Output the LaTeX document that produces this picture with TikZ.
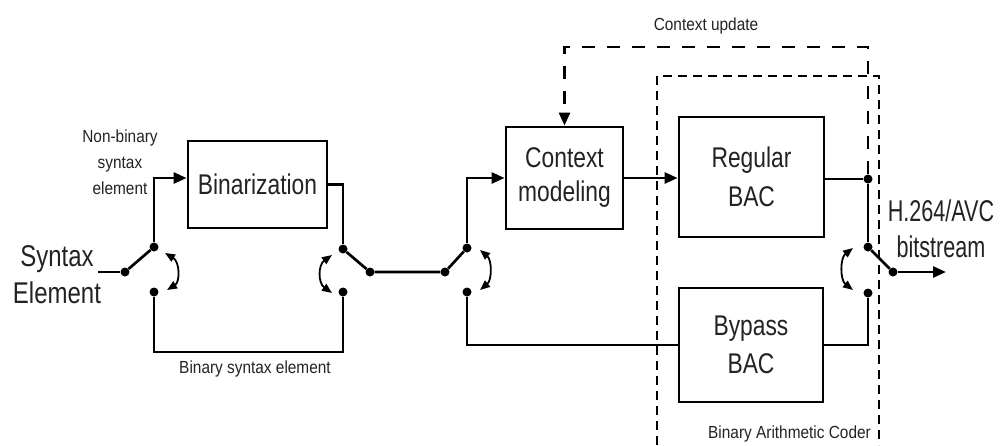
\documentclass[tikz,border=0pt]{standalone}
\usepackage{fontspec}
\setmainfont{Liberation Sans}
\newfontfamily\bigf[FakeStretch=0.8]{Liberation Sans}
\newfontfamily\outf[FakeStretch=0.72]{Liberation Sans}
\newfontfamily\smallf[FakeStretch=0.88]{Liberation Sans}
\usetikzlibrary{arrows.meta,calc}
\definecolor{txt}{RGB}{35,35,35}
\begin{document}
\begin{tikzpicture}[x=1pt,y=-1pt,
  line/.style={line width=2.7pt},
  box/.style={draw, line width=2.8pt, rectangle, inner sep=0pt, align=center, text=txt},
  boxfont/.style={font=\bigf\fontsize{28.5}{#1}\selectfont},
  dot/.style={circle, fill, inner sep=0pt, minimum size=9pt},
  arr/.style={-{Triangle[length=13pt,width=11pt]}},
  swarr/.style={line width=1.8pt, {Triangle[length=10pt,width=8pt]}-{Triangle[length=10pt,width=8pt]}},
  lbl/.style={text=txt, font=\smallf\fontsize{17.5}{26}\selectfont, inner sep=0pt, align=center},
  cudash/.style={line width=2.6pt, dash pattern=on 13pt off 12pt, -{Triangle[length=13pt,width=11pt]}},
  bacdash/.style={line width=1.7pt, dash pattern=on 9pt off 6pt}
]
\fill[white] (0,0) rectangle (1005,445);
\useasboundingbox (0,0) rectangle (1005,445);

% boxes
\node[box, boxfont=36, minimum width=139pt, minimum height=87pt] (bin) at (257.5,184.5) {Binarization};
\node[box, boxfont=34, minimum width=117pt, minimum height=102pt] (ctx) at (564.5,178) {Context\\modeling};
\node[box, boxfont=39, minimum width=145pt, minimum height=120pt] (reg) at (751.5,177) {Regular\\BAC};
\node[box, boxfont=38, minimum width=144pt, minimum height=114pt] (byp) at (751,345) {Bypass\\BAC};

% switch contacts
\node[dot] (p1) at (125,272) {};
\node[dot] (t1) at (154,247) {};
\node[dot] (b1) at (154,292) {};
\node[dot] (t2) at (343,249) {};
\node[dot] (p2) at (370,272) {};
\node[dot] (b2) at (343,292) {};
\node[dot] (p3) at (445,272) {};
\node[dot] (t3) at (467,248) {};
\node[dot] (b3) at (467,292) {};
\node[dot] (rdot) at (868,179) {};
\node[dot] (t4) at (868,247) {};
\node[dot] (p4) at (893,272) {};
\node[dot] (b4) at (868,293) {};
\coordinate (sin) at (98,272);
\coordinate (out) at (946,272);

% connectors
\draw[line] (sin) -- (p1);
\draw[line] (p1) -- (t1);
\draw[line,arr] (t1) |- ($(bin.west)+(0,-6.5)$);
\draw[line] (b1) -- ++(0,60) -| (b2);
\draw[line] (bin.east) -| (t2);
\draw[line] (t2) -- (p2) -- (p3) -- (t3);
\draw[line,arr] (t3) |- (ctx.west);
\draw[line] (b3) |- (byp.west);
\draw[line,arr] (ctx.east) -- (reg.west |- ctx.east);
\draw[line] (reg.east |- rdot) -- (rdot) -- (t4);
\draw[line] (byp.east) -| (b4);
\draw[line] (t4) -- (p4);
\draw[line,arr] (p4) -- (out);

% switch arcs
\draw[swarr] (165,253) .. controls (180,262) and (180,282) .. (167,290);
\draw[swarr] (332,255) .. controls (318,265) and (318,283) .. (332,293);
\draw[swarr] (480,250) .. controls (492,260) and (492,280) .. (480,290);
\draw[swarr] (853,248) .. controls (840,258) and (840,280) .. (853,290);

% context update
\draw[cudash] (rdot) -- ++(0,-132) -| (ctx.north);

% binary arithmetic coder frame
\draw[bacdash] (657,445) -- (657,76) -- (879,76) -- (879,445);

% labels
\node[text=txt, align=center, inner sep=0pt, font=\bigf\fontsize{30}{37}\selectfont] (se) at (57,275) {Syntax\\Element};
\node[text=txt, align=center, inner sep=0pt, font=\outf\fontsize{30}{36}\selectfont] (h264) at (941,229) {H.264/AVC\\bitstream};
\node[lbl] (nb) at (120,162.5) {Non-binary\\syntax\\element};
\node[lbl, anchor=base] (bse) at (255,373) {Binary syntax element};
\node[lbl, anchor=base] (cul) at (706,30) {Context update};
\node[lbl, anchor=base] (bacl) at (789.5,438) {Binary Arithmetic Coder};
\end{tikzpicture}
\end{document}
